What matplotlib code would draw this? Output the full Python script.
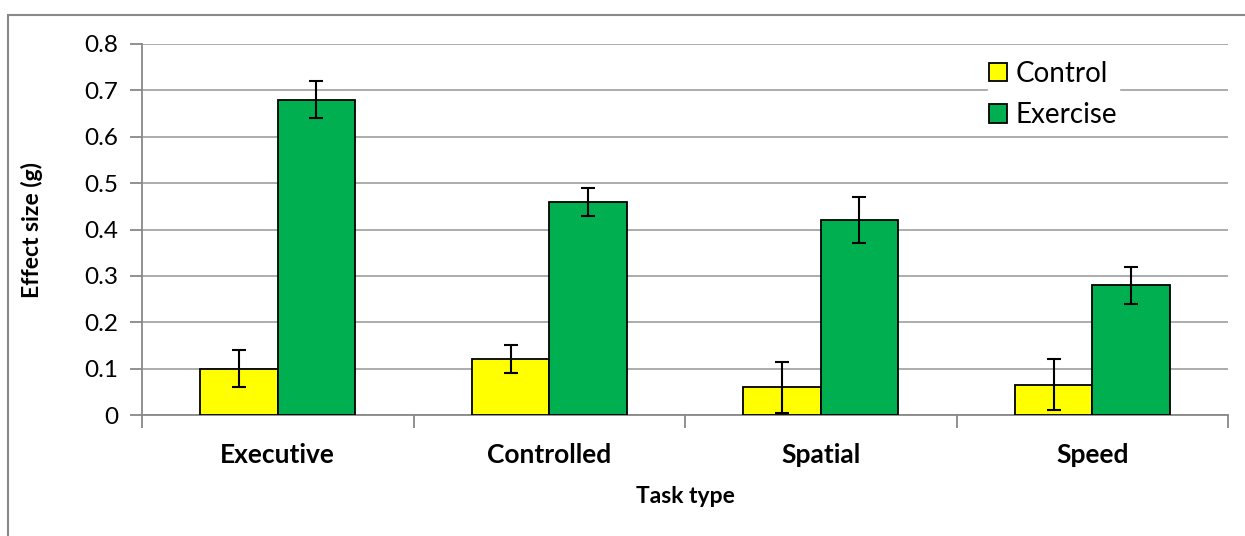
import matplotlib
matplotlib.use('Agg')
import matplotlib.pyplot as plt
from matplotlib.patches import Rectangle
import numpy as np

plt.rcParams['font.family'] = ['Lato', 'DejaVu Sans']

tasks = ['Executive', 'Controlled', 'Spatial', 'Speed']
control = [0.10, 0.12, 0.06, 0.065]
control_err = [0.04, 0.03, 0.055, 0.055]
exercise = [0.68, 0.46, 0.42, 0.28]
exercise_err = [0.04, 0.03, 0.05, 0.04]

fig = plt.figure(figsize=(12.45, 5.36), dpi=100)
ax = fig.add_axes([142/1245, 1 - 415/536, (1228 - 142)/1245, (415 - 44)/536])

x = np.arange(len(tasks))
w = 0.285
ekw = dict(ecolor='black', elinewidth=1.5, capsize=5, capthick=1.5)
ax.bar(x - w/2, control, w, yerr=control_err, color='#FFFF00', edgecolor='black',
       linewidth=1.3, label='Control', error_kw=ekw, zorder=3)
ax.bar(x + w/2, exercise, w, yerr=exercise_err, color='#00B050', edgecolor='black',
       linewidth=1.3, label='Exercise', error_kw=ekw, zorder=3)

ax.set_xlim(-0.5, len(tasks) - 0.5)
ax.set_ylim(0, 0.8)
ax.set_yticks(np.arange(0, 0.81, 0.1))
ax.set_yticklabels(['0'] + [f'{v:.1f}' for v in np.arange(0.1, 0.81, 0.1)])
ax.set_xticks(x)
ax.set_xticklabels(tasks, fontsize=19, fontweight='bold')
ax.set_xticks(np.arange(-0.5, len(tasks), 1), minor=True)
ax.tick_params(axis='x', which='major', length=0, pad=20)
ax.tick_params(axis='x', which='minor', length=9, color='#888888', width=1.3)
ax.tick_params(axis='y', length=9, color='#888888', width=1.3, labelsize=17.5, pad=8)

ax.grid(True, axis='y', color='#A6A6A6', linewidth=1.3, zorder=0)
ax.set_axisbelow(True)
for s in ['top', 'right']:
    ax.spines[s].set_visible(False)
for s in ['left', 'bottom']:
    ax.spines[s].set_color('#888888')
    ax.spines[s].set_linewidth(1.3)

ax.set_ylabel('Effect size (g)', fontsize=16.5, fontweight='bold', labelpad=30)
ax.set_xlabel('Task type', fontsize=16.5, fontweight='bold', labelpad=14)

leg = ax.legend(loc='upper right', bbox_to_anchor=(0.912, 0.996), fontsize=20,
                frameon=True, fancybox=False, framealpha=1, edgecolor='white',
                handlelength=0.65, handleheight=0.65, handletextpad=0.3,
                borderpad=0.05, labelspacing=0.55)

fig.patches.append(Rectangle((8/1245, -0.1), 1.2, 1 - 15/536 + 0.1,
                             transform=fig.transFigure, fill=False,
                             edgecolor='#888888', linewidth=1.5))

fig.savefig('out.png', dpi=100)
